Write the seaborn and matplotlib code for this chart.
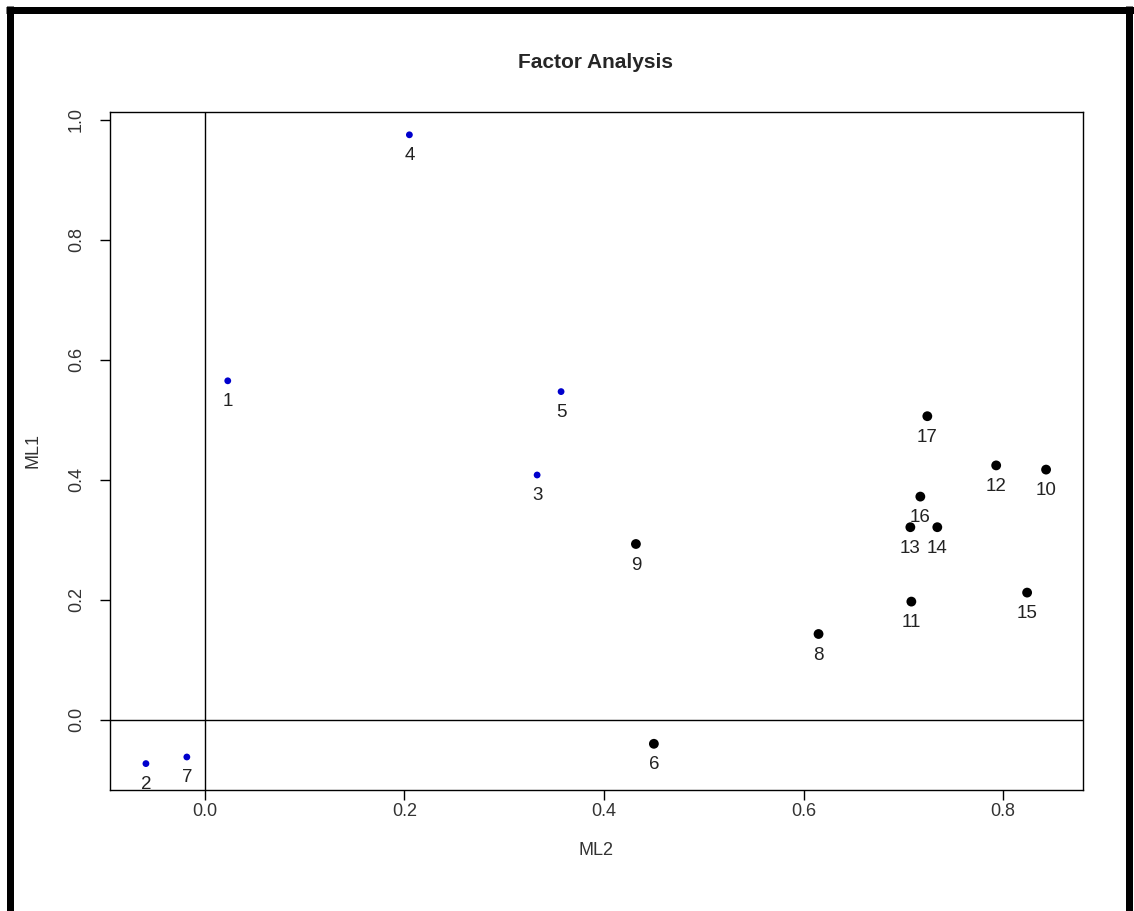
import matplotlib
matplotlib.use("Agg")
import matplotlib.pyplot as plt
import seaborn as sns
import pandas as pd
from matplotlib.lines import Line2D

# factor loadings
items = ["1", "2", "3", "4", "5", "6", "7", "8", "9", "10",
         "11", "12", "13", "14", "15", "16", "17"]
ml2 = [0.023, -0.059, 0.333, 0.205, 0.357, 0.450, -0.018, 0.615, 0.432, 0.843,
       0.708, 0.793, 0.707, 0.734, 0.824, 0.717, 0.724]
ml1 = [0.565, -0.073, 0.408, 0.975, 0.547, -0.040, -0.062, 0.143, 0.293, 0.417,
       0.197, 0.424, 0.321, 0.321, 0.212, 0.372, 0.506]
group = ["a", "a", "a", "a", "a", "b", "a", "b", "b", "b",
         "b", "b", "b", "b", "b", "b", "b"]

df = pd.DataFrame({"item": items, "ML2": ml2, "ML1": ml1, "group": group})

sns.set_style("white")
plt.rcParams["font.family"] = ["Liberation Sans", "DejaVu Sans"]

fig = plt.figure(figsize=(11.34, 9.11), dpi=100)
ax = fig.add_axes([110 / 1134, 1 - 790 / 911, (1083 - 110) / 1134, (790 - 112) / 911])

# reference lines through the origin
ax.axvline(0, color="black", lw=1, zorder=1)
ax.axhline(0, color="black", lw=1, zorder=1)

blue = df[df.group == "a"]
black = df[df.group == "b"]
sns.scatterplot(data=blue, x="ML2", y="ML1", ax=ax, color="#0000CD", s=24,
                edgecolor="none", zorder=3)
sns.scatterplot(data=black, x="ML2", y="ML1", ax=ax, color="black", s=50,
                edgecolor="none", zorder=3)

for _, r in df.iterrows():
    ax.annotate(r["item"], (r["ML2"], r["ML1"]), xytext=(0, -21),
                textcoords="offset pixels", ha="center", va="center",
                fontsize=13.5, color="#222222", zorder=4)

ax.set_xlim(-0.095, 0.880)
ax.set_ylim(-0.117, 1.013)
ax.set_xticks([0.0, 0.2, 0.4, 0.6, 0.8])
ax.set_yticks([0.0, 0.2, 0.4, 0.6, 0.8, 1.0])
ax.set_xticklabels(["0.0", "0.2", "0.4", "0.6", "0.8"])
ax.set_yticklabels(["0.0", "0.2", "0.4", "0.6", "0.8", "1.0"], rotation=90, va="center")
ax.tick_params(axis="both", direction="out", length=7, width=1, colors="black",
               labelsize=13, labelcolor="#333333", bottom=True, left=True)
ax.tick_params(axis="x", pad=2)
ax.tick_params(axis="y", pad=11)
for sp in ax.spines.values():
    sp.set_color("black")
    sp.set_linewidth(1)

ax.set_xlabel("ML2", fontsize=13, color="#333333", labelpad=16)
ax.set_ylabel("ML1", fontsize=13, color="#333333", labelpad=19)
fig.text(596 / 1134, 1 - 63 / 911, "Factor Analysis", ha="center", va="center",
         fontsize=15, fontweight="bold")

# black frame around the picture (top, left, right)
W, H = 1134, 911
for xs, ys in [([6 / W, 1], [1 - 9.5 / H, 1 - 9.5 / H]),
               ([9.5 / W, 9.5 / W], [0, 1 - 6 / H]),
               ([1129 / W, 1129 / W], [0, 1 - 6 / H])]:
    fig.add_artist(Line2D(xs, ys, color="black", lw=7 * 0.72, solid_capstyle="butt",
                          transform=fig.transFigure))

fig.savefig("out.png", dpi=100)
